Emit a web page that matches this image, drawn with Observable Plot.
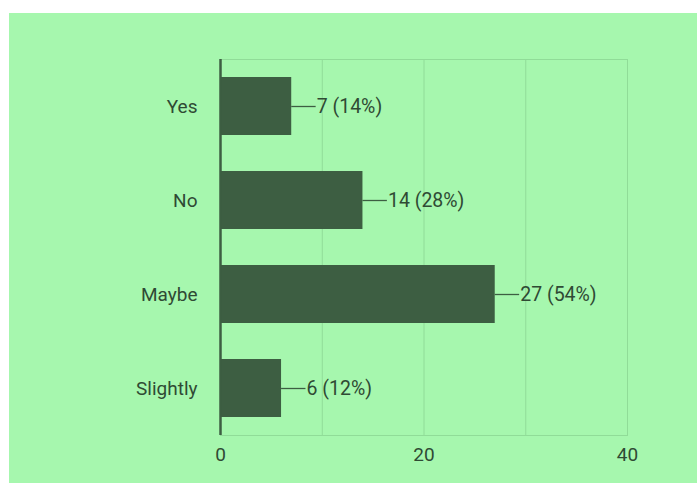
<!DOCTYPE html>
<html>
<head>
<meta charset="utf-8">
<script src="https://cdn.jsdelivr.net/npm/d3@7"></script>
<script src="https://cdn.jsdelivr.net/npm/@observablehq/plot@0.6"></script>
<style>
  html, body { margin: 0; padding: 0; background: #ffffff; }
  #panel { position: absolute; left: 9px; top: 13px; width: 688px; height: 470px; background: #a6f7ae; }
  #panel svg { display: block; }
</style>
</head>
<body>
<div id="panel"></div>
<script>
const categories = ["Yes", "No", "Maybe", "Slightly"];
const counts = [7, 14, 27, 6];
const percents = [14, 28, 54, 12];
const gridTicks = [0, 10, 20, 30, 40];
const labelTicks = [0, 20, 40];

const rows = categories.map((c, i) => ({cat: c, n: counts[i], pct: percents[i]}));

const barColor = "#3d5e42";
const textColor = "#2f4a34";
const gridColor = "#90dc98";

const chart = Plot.plot({
  width: 688,
  height: 470,
  marginLeft: 211,
  marginRight: 70,
  marginTop: 46,
  marginBottom: 48,
  style: {background: "transparent", fontFamily: "Roboto, sans-serif", fontSize: "19px", color: textColor},
  x: {domain: [0, 40], ticks: labelTicks, tickSize: 0, tickPadding: 12, label: null, tickFormat: d => String(d)},
  y: {domain: categories, paddingInner: 0.38, paddingOuter: 0.19, tickSize: 0, tickPadding: 23, label: null},
  marks: [
    Plot.ruleX(gridTicks, {stroke: gridColor, strokeWidth: 1}),
    Plot.frame({anchor: "top", stroke: gridColor}),
    Plot.frame({anchor: "bottom", stroke: gridColor}),
    Plot.barX(rows, {x: "n", y: "cat", fill: barColor}),
    Plot.ruleY(rows, {y: "cat", x1: "n", x2: d => d.n + 2.4, stroke: barColor, strokeWidth: 1.3}),
    Plot.text(rows, {y: "cat", x: "n", dx: 25, text: d => `${d.n} (${d.pct}%)`, textAnchor: "start", fill: textColor, fontSize: 19.5}),
    Plot.ruleX([0], {stroke: barColor, strokeWidth: 2.5})
  ]
});
document.getElementById("panel").appendChild(chart);
</script>
</body>
</html>
